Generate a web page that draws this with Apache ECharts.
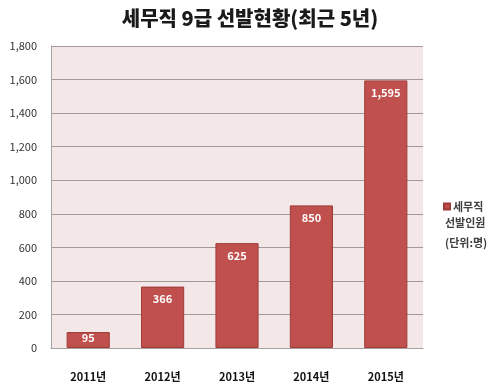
<!DOCTYPE html>
<html>
<head>
<meta charset="utf-8">
<script src="https://cdn.jsdelivr.net/npm/echarts@6/dist/echarts.min.js"></script>
<style>html,body{margin:0;padding:0;background:#fff}#c{width:500px;height:392px}</style>
</head>
<body>
<div id="c"></div>
<script>
const categories = ['2011년', '2012년', '2013년', '2014년', '2015년'];
const values = [95, 366, 625, 850, 1595];
const seriesName = '세무직';
const legendExtra = '선발인원\n(단위:명)';
const yTicks = { min: 0, max: 1800, interval: 200 };

const chart = echarts.init(document.getElementById('c'));
const font = '"Noto Sans CJK KR", "Noto Sans", sans-serif';
chart.setOption({
  animation: false,
  textStyle: { fontFamily: font },
  title: {
    text: '세무직 9급 선발현황(최근 5년)',
    left: 'center', top: 3,
    textStyle: { fontSize: 20, fontWeight: 900, color: '#1a1a1a', fontFamily: font }
  },
  grid: {
    left: 51, right: 77, top: 46, bottom: 44,
    show: true, backgroundColor: '#F3E7E7', borderWidth: 0
  },
  legend: {
    data: [seriesName],
    left: 438, top: 196,
    icon: 'rect', itemWidth: 6, itemHeight: 6, itemGap: 0,
    textStyle: { fontSize: 11, fontWeight: 'bold', color: '#404040', padding: [0, 0, 0, -2] }
  },
  graphic: [{
    type: 'text', left: 445, top: 213,
    style: { text: legendExtra, fontSize: 11, fontWeight: 'bold', fill: '#404040', lineHeight: 20, fontFamily: font }
  }],
  xAxis: {
    type: 'category', data: categories,
    axisLine: { show: true, lineStyle: { color: '#A8A0A0' } },
    axisTick: { show: false },
    axisLabel: { fontSize: 11, fontWeight: 'bold', color: '#111', margin: 23 }
  },
  yAxis: {
    type: 'value', min: yTicks.min, max: yTicks.max, interval: yTicks.interval,
    axisLine: { show: true, lineStyle: { color: '#A8A0A0' } },
    axisTick: { show: false },
    splitLine: { lineStyle: { color: '#A39797' } },
    axisLabel: {
      fontSize: 11, color: '#333', margin: 14,
      formatter: v => v.toLocaleString('en-US')
    }
  },
  series: [{
    name: seriesName, type: 'bar',
    data: values.map((v, i) => i === 0 ? { value: v, label: { distance: 0 } } : v),
    barWidth: '58%',
    itemStyle: { color: '#C0504D', borderColor: '#9E3B39', borderWidth: 1 },
    label: {
      show: true, position: 'insideTop', distance: 7,
      color: '#fff', fontWeight: 'bold', fontSize: 11,
      formatter: p => p.value.toLocaleString('en-US')
    }
  }]
});
</script>
</body>
</html>
